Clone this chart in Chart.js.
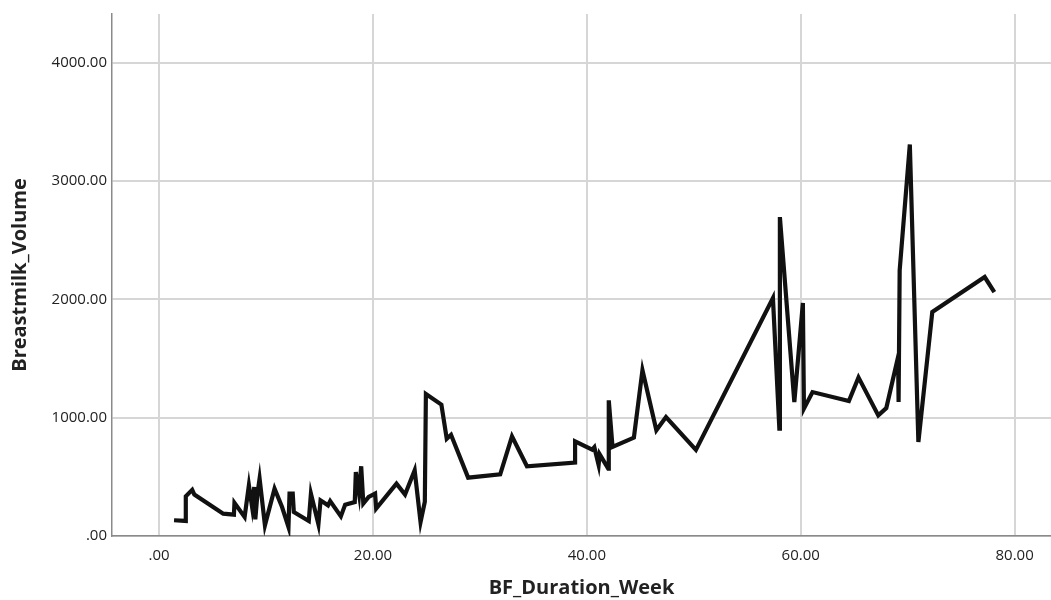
<!DOCTYPE html>
<html>
<head>
<meta charset="utf-8">
<script src="https://cdn.jsdelivr.net/npm/chart.js@4"></script>
<style>
  html, body { margin: 0; padding: 0; background: #fff; }
  #wrap { width: 1051px; height: 600px; }
</style>
</head>
<body>
<div id="wrap"><canvas id="bf-line-chart"></canvas></div>
<script>
// values
var weeks = [1.4, 2.5, 2.5, 3.1, 3.3, 6.0, 7.0, 7.05, 8.0, 8.4, 8.7, 8.9, 9.0, 9.2, 9.4, 9.9,
  10.8, 11.5, 12.1, 12.2, 12.5, 12.6, 14.0, 14.2, 14.9, 15.1, 15.8, 16.0, 17.0, 17.4,
  18.3, 18.4, 18.7, 18.9, 19.1, 19.6, 20.2, 20.3, 22.2, 23.0, 23.9, 24.45, 24.85, 24.95,
  26.4, 26.9, 27.3, 28.9, 31.9, 33.0, 34.4, 38.9, 38.9, 40.5, 40.7, 41.1, 41.2, 42.0,
  42.05, 42.4, 44.4, 45.2, 46.5, 47.4, 50.2, 57.4, 58.0, 58.05, 59.4, 60.2, 60.3, 61.1,
  64.5, 65.4, 67.25, 68.0, 69.1, 69.15, 69.25, 70.2, 71.0, 72.3, 77.2, 78.1];
var volumes = [133, 127, 335, 390, 350, 189, 180, 280, 160, 428, 245, 414, 141, 358, 485, 90,
  400, 245, 76, 358, 358, 203, 127, 358, 99, 301, 259, 295, 166, 265,
  287, 541, 358, 589, 274, 330, 358, 231, 442, 350, 555, 118, 290, 1200,
  1110, 822, 855, 493, 521, 842, 589, 620, 800, 730, 750, 600, 690, 570,
  1146, 752, 831, 1400, 893, 1005, 727, 2010, 907, 2694, 1132, 1968, 1076, 1216,
  1140, 1340, 1019, 1081, 1512, 1132, 2244, 3308, 794, 1892, 2188, 2061];
var xTicks = [0, 20, 40, 60, 80];
var yTicks = [0, 1000, 2000, 3000, 4000];

function fmt(v) {
  return v === 0 ? '.00' : v.toFixed(2);
}

var points = weeks.map(function (w, i) { return { x: w, y: volumes[i] }; });

new Chart(document.getElementById("bf-line-chart"), {
  type: 'line',
  data: {
    datasets: [{
      label: "Breastmilk_Volume",
      data: points,
      borderColor: "#111",
      borderWidth: 4.2,
      pointRadius: 0,
      tension: 0,
      fill: false
    }]
  },
  options: {
    responsive: true,
    maintainAspectRatio: false,
    animation: false,
    layout: {
      padding: { top: 8, right: 0, bottom: 0, left: 0 }
    },
    plugins: {
      legend: { display: false },
      tooltip: { enabled: false }
    },
    scales: {
      x: {
        type: 'linear',
        min: -4.4,
        max: 83.4,
        afterBuildTicks: function (scale) {
          scale.ticks = xTicks.map(function (v) { return { value: v }; });
        },
        afterFit: function (scale) { scale.height = 64; },
        grid: { color: '#d6d6d6', lineWidth: 2, drawTicks: false },
        border: { color: '#8a8a8a', width: 1.5 },
        ticks: {
          padding: 11,
          color: '#222',
          font: { family: 'Open Sans', size: 15 },
          callback: function (v) { return fmt(v); }
        },
        title: {
          display: true,
          text: 'BF_Duration_Week',
          color: '#222',
          padding: { top: 0, bottom: 0 },
          font: { family: 'Open Sans', size: 20, weight: 'bold' }
        }
      },
      y: {
        min: 0,
        max: 4410,
        afterBuildTicks: function (scale) {
          scale.ticks = yTicks.map(function (v) { return { value: v }; });
        },
        afterFit: function (scale) { scale.width = 112; },
        grid: { color: '#d6d6d6', lineWidth: 2, drawTicks: false },
        border: { color: '#8a8a8a', width: 1.5 },
        ticks: {
          padding: 5,
          color: '#222',
          font: { family: 'Open Sans', size: 15 },
          callback: function (v) { return fmt(v); }
        },
        title: {
          display: true,
          text: 'Breastmilk_Volume',
          color: '#222',
          padding: { top: 8, bottom: 0 },
          font: { family: 'Open Sans', size: 20, weight: 'bold' }
        }
      }
    }
  }
});
</script>
</body>
</html>
